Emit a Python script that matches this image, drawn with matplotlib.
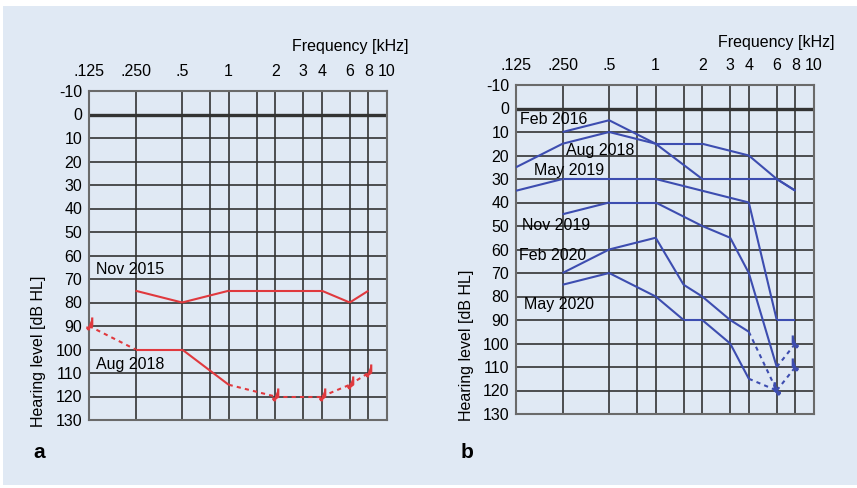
import numpy as np
import matplotlib
matplotlib.use("Agg")
import matplotlib.pyplot as plt
from matplotlib.path import Path
from matplotlib.patches import Rectangle

plt.rcParams['font.family'] = ['Liberation Sans', 'DejaVu Sans']

# ---------------- data ----------------
tick_freqs = [0.125, 0.25, 0.5, 1, 2, 3, 4, 6, 8, 10]
tick_labels = [".125", ".250", ".5", "1", "2", "3", "4", "6", "8", "10"]
minor_freqs = [0.75, 1.5]
db_ticks = list(range(-10, 131, 10))

# panel a (red)
nov2015_f = [0.25, 0.5, 1, 2, 4, 6, 8]
nov2015_db = [75, 80, 75, 75, 75, 80, 75]
aug2018a_f = [0.125, 0.25, 0.5, 1, 2, 4, 6, 8]
aug2018a_db = [90, 100, 100, 115, 120, 120, 115, 110]
aug2018a_nr = [0.125, 2, 4, 6, 8]          # no response
aug2018a_dotted = [(0, 1), (3, 4), (4, 5), (5, 6), (6, 7)]  # segment index pairs

# panel b (blue)
feb2016_f = [0.25, 0.5, 1, 2, 4, 6, 8]
feb2016_db = [10, 5, 15, 30, 30, 30, 35]
aug2018b_f = [0.125, 0.25, 0.5, 1, 2, 4, 6, 8]
aug2018b_db = [25, 15, 10, 15, 15, 20, 30, 35]
may2019_f = [0.125, 0.25, 0.5, 1, 2, 4, 6, 8]
may2019_db = [35, 30, 30, 30, 35, 40, 90, 90]
nov2019_f = [0.25, 0.5, 1, 2, 3, 4, 6, 8]
nov2019_db = [45, 40, 40, 50, 55, 70, 110, 100]
nov2019_nr = [8]
nov2019_dotted = [(6, 7)]
feb2020_f = [0.25, 0.5, 1, 1.5, 2, 3, 4, 6]
feb2020_db = [70, 60, 55, 75, 80, 90, 95, 120]
feb2020_nr = [6]
feb2020_dotted = [(6, 7)]
may2020_f = [0.25, 0.5, 1, 1.5, 2, 3, 4, 6, 8]
may2020_db = [75, 70, 80, 90, 90, 100, 115, 120, 110]
may2020_nr = [6, 8]
may2020_dotted = [(6, 7), (7, 8)]

RED = '#e0393e'
BLUE = '#3d4db0'
BG = '#e0e9f4'
GRID = '#333333'

# frequency axis: octave spacing with audiometric half-octaves
knots_f = np.log2([0.125, 0.25, 0.5, 0.75, 1, 1.5, 2, 3, 4, 6, 8, 10])
knots_p = np.array([0, 1, 2, 2.6, 3, 3.6, 4, 4.6, 5, 5.6, 6, 6.4])

def fwd(f):
    f = np.asarray(f, dtype=float)
    return np.interp(np.log2(np.clip(f, 1e-6, None)), knots_f, knots_p)

def inv(p):
    p = np.asarray(p, dtype=float)
    return 2 ** np.interp(p, knots_p, knots_f)

def nr_marker(mirror=False):
    s = -1 if mirror else 1
    verts = [(0.45 * s, 1.5), (0.45 * s, 0.15), (-0.35 * s, -0.45),
             (-0.35 * s, -0.45), (-0.35 * s, 0.0),
             (-0.35 * s, -0.45), (0.1 * s, -0.45)]
    codes = [Path.MOVETO, Path.LINETO, Path.LINETO,
             Path.MOVETO, Path.LINETO,
             Path.MOVETO, Path.LINETO]
    return Path(verts, codes)

W, H = 857, 488
fig = plt.figure(figsize=(W / 100, H / 100), dpi=100)
fig.patch.set_facecolor('white')
fig.patches.append(Rectangle((3 / W, 3 / H), 1 - 3 / W, 1 - 9 / H,
                             transform=fig.transFigure, facecolor=BG,
                             edgecolor='none', zorder=-10))

FS = 11.5

def setup(ax):
    ax.set_xscale('function', functions=(fwd, inv))
    ax.set_xlim(0.125, 10)
    ax.set_ylim(130, -10)
    ax.patch.set_alpha(0)
    ax.xaxis.tick_top()
    ax.set_xticks(tick_freqs, tick_labels)
    ax.set_yticks(db_ticks, [str(v) for v in db_ticks])
    ax.tick_params(axis='both', which='both', length=0, labelsize=FS)
    ax.tick_params(axis='x', pad=9)
    ax.tick_params(axis='y', pad=5)
    ax.set_xticks(minor_freqs, minor=True)
    ax.yaxis.set_minor_locator(matplotlib.ticker.NullLocator())
    ax.tick_params(axis='x', which='minor', length=0, labeltop=False)
    ax.grid(True, which='both', color=GRID, lw=1.2)
    ax.axhline(0, color=GRID, lw=2.4, zorder=1)
    for sp in ax.spines.values():
        sp.set_color('#6a6a6a')
        sp.set_linewidth(1.5)

def draw(ax, f, db, color, dotted=(), nr=(), mirror=False):
    f = list(f)
    db = list(db)
    dotted = set(dotted)
    for i in range(len(f) - 1):
        ls = (0, (2, 2)) if (i, i + 1) in dotted else '-'
        ax.plot(f[i:i + 2], db[i:i + 2], color=color, lw=1.5, ls=ls,
                solid_capstyle='butt', zorder=3)
    m = nr_marker(mirror)
    for fr in nr:
        j = f.index(fr)
        ax.plot([f[j]], [db[j]], marker=m, ms=13, color=color,
                mew=1.6, ls='none', zorder=4, clip_on=False)

# panel a
axa = fig.add_axes([89 / W, 1 - 420 / H, 298 / W, 329 / H])
setup(axa)
draw(axa, nov2015_f, nov2015_db, RED)
draw(axa, aug2018a_f, aug2018a_db, RED, aug2018a_dotted, aug2018a_nr)

# panel b
axb = fig.add_axes([516 / W, 1 - 414 / H, 298 / W, 329 / H])
setup(axb)
draw(axb, feb2016_f, feb2016_db, BLUE)
draw(axb, aug2018b_f, aug2018b_db, BLUE)
draw(axb, may2019_f, may2019_db, BLUE)
draw(axb, nov2019_f, nov2019_db, BLUE, nov2019_dotted, nov2019_nr, True)
draw(axb, feb2020_f, feb2020_db, BLUE, feb2020_dotted, feb2020_nr, True)
draw(axb, may2020_f, may2020_db, BLUE, may2020_dotted, may2020_nr, True)

def ftext(px, py, s, **kw):
    fig.text(px / W, 1 - py / H, s, fontsize=kw.pop('fontsize', FS), **kw)

# series labels
ftext(96, 270, "Nov 2015", va='center', ha='left')
ftext(96, 364, "Aug 2018", va='center', ha='left')
ftext(520, 119, "Feb 2016", va='center', ha='left')
ftext(566, 150, "Aug 2018", va='center', ha='left')
ftext(534, 170, "May 2019", va='center', ha='left')
ftext(522, 225, "Nov 2019", va='center', ha='left')
ftext(519, 255, "Feb 2020", va='center', ha='left')
ftext(524, 304, "May 2020", va='center', ha='left')

# axis titles
ftext(408, 47, "Frequency [kHz]", va='center', ha='right')
ftext(835, 42, "Frequency [kHz]", va='center', ha='right')
ftext(39, 427, "Hearing level [dB HL]", va='bottom', ha='center', rotation=90)
ftext(467, 421, "Hearing level [dB HL]", va='bottom', ha='center', rotation=90)

# panel letters
ftext(33, 452, "a", va='center', ha='left', fontweight='bold', fontsize=15)
ftext(461, 452, "b", va='center', ha='left', fontweight='bold', fontsize=15)

fig.savefig("out.png", dpi=100, facecolor=fig.get_facecolor())
